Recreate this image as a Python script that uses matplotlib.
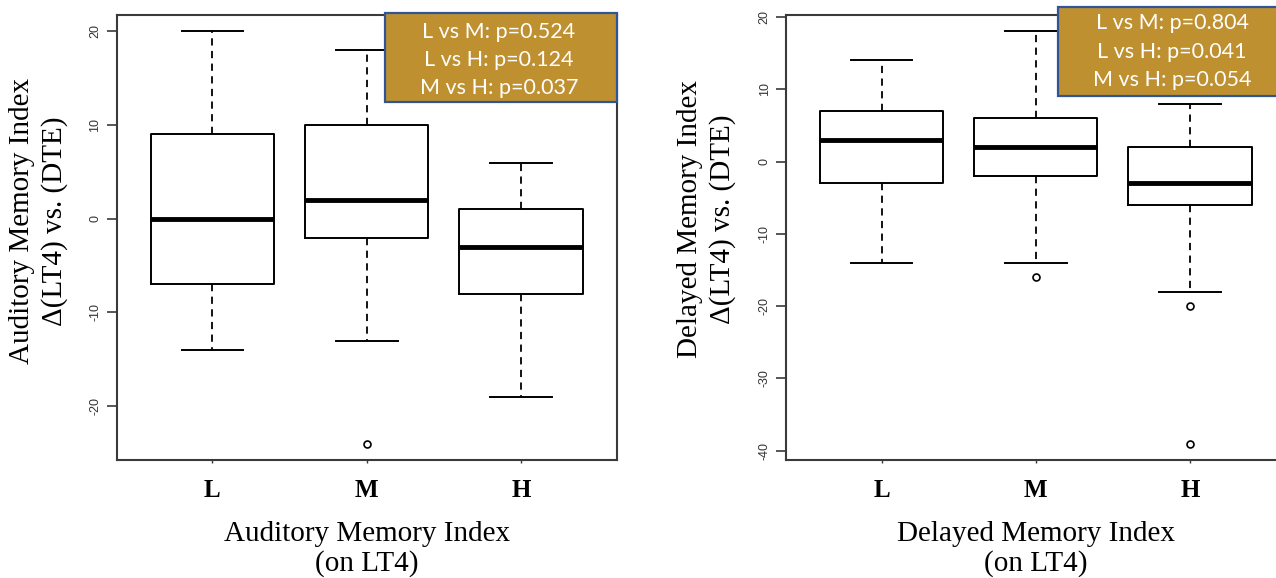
import matplotlib
matplotlib.use("Agg")
import matplotlib.pyplot as plt
from matplotlib.patches import Rectangle

groups = ["L", "M", "H"]

# Auditory memory index (left panel)
aud_med = [0, 2, -3]
aud_q1 = [-7, -2, -8]
aud_q3 = [9, 10, 1]
aud_lo = [-14, -13, -19]
aud_hi = [20, 18, 6]
aud_out = [[], [-24], []]
aud_ticks = [20, 10, 0, -10, -20]
aud_p = ["L vs M: p=0.524", "L vs H: p=0.124", "M vs H: p=0.037"]

# Delayed memory index (right panel)
del_med = [3, 2, -3]
del_q1 = [-3, -2, -6]
del_q3 = [7, 6, 2]
del_lo = [-14, -14, -18]
del_hi = [14, 18, 8]
del_out = [[], [-16], [-20, -39]]
del_ticks = [20, 10, 0, -10, -20, -30, -40]
del_p = ["L vs M: p=0.804", "L vs H: p=0.041", "M vs H: p=0.054"]

SERIF = "Liberation Serif"
FRAME = "#3a3a3a"


def draw_panel(ax, med, q1, q3, lo, hi, out, ticks, ytitle, xtitle, ylab_xy):
    stats = []
    for i in range(len(med)):
        stats.append(dict(med=med[i], q1=q1[i], q3=q3[i],
                          whislo=lo[i], whishi=hi[i], fliers=out[i]))
    ax.bxp(stats, positions=[1, 2, 3], widths=0.8, capwidths=0.4,
           boxprops=dict(color="black", linewidth=1.4),
           whiskerprops=dict(color="black", linewidth=1.3, linestyle=(0, (4, 3))),
           capprops=dict(color="black", linewidth=1.4),
           medianprops=dict(color="black", linewidth=3.5, solid_capstyle="butt"),
           flierprops=dict(marker="o", markerfacecolor="none", markeredgecolor="black",
                           markersize=5, markeredgewidth=1.2))

    # R-style limits: data range plus 4%
    allv = lo + hi + [v for o in out for v in o]
    vmin, vmax = min(allv), max(allv)
    pad = 0.04 * (vmax - vmin)
    ax.set_ylim(vmin - pad, vmax + pad)
    ax.set_xlim(0.38, 3.62)

    for s in ax.spines.values():
        s.set_color(FRAME)
        s.set_linewidth(1.5)

    ax.set_yticks(ticks)
    ax.set_yticklabels([str(t) for t in ticks], rotation=90, va="center",
                       family="Liberation Sans", color="#333333")
    ax.tick_params(axis="y", length=7, width=1.2, color=FRAME, labelsize=9, pad=4)

    ax.set_xticks([1, 2, 3])
    ax.set_xticklabels(groups, family=SERIF, fontweight="bold", fontsize=18)
    ax.tick_params(axis="x", length=2.5, width=1.0, color=FRAME, pad=11)

    ax.text(ylab_xy[0], ylab_xy[1], ytitle, transform=ax.transAxes, rotation=90,
            ha="center", va="center", family=SERIF, fontsize=21, linespacing=1.3)
    ax.text(0.5, -0.2, xtitle, transform=ax.transAxes, ha="center", va="center",
            family=SERIF, fontsize=21, linespacing=1.15)


def p_box(fig, x, y, w, h, lines, tx, ty):
    fig.add_artist(Rectangle((x, y), w, h, transform=fig.transFigure,
                             facecolor="#bf902f", edgecolor="#2f5597",
                             linewidth=1.6, zorder=5))
    for line, yy in zip(lines, ty):
        fig.text(tx, yy, line, ha="center", va="center", color="white",
                 family="Lato", fontsize=15.5, zorder=6)


fig = plt.figure(figsize=(12.76, 5.78), dpi=100)
W, H = 1276.0, 578.0

ax1 = fig.add_axes([116.7 / W, 1 - 460 / H, 499.9 / W, 445 / H])
ax2 = fig.add_axes([786 / W, 1 - 460 / H, 499.5 / W, 445 / H])

draw_panel(ax1, aud_med, aud_q1, aud_q3, aud_lo, aud_hi, aud_out, aud_ticks,
           "Auditory Memory Index\n\u0394(LT4) vs. (DTE)",
           "Auditory Memory Index\n(on LT4)", (-0.156, 0.537))
draw_panel(ax2, del_med, del_q1, del_q3, del_lo, del_hi, del_out, del_ticks,
           "Delayed Memory Index\n\u0394(LT4) vs. (DTE)",
           "Delayed Memory Index\n(on LT4)", (-0.16, 0.542))

p_box(fig, 385 / W, 1 - 101.7 / H, 231.7 / W, 88.4 / H, aud_p,
      499 / W, [1 - 31.7 / H, 1 - 60 / H, 1 - 88.3 / H])
p_box(fig, 1058.3 / W, 1 - 96.3 / H, 240 / W, 89.6 / H, del_p,
      1172 / W, [1 - 23.3 / H, 1 - 51.7 / H, 1 - 80 / H])

fig.savefig("out.png", dpi=100)
